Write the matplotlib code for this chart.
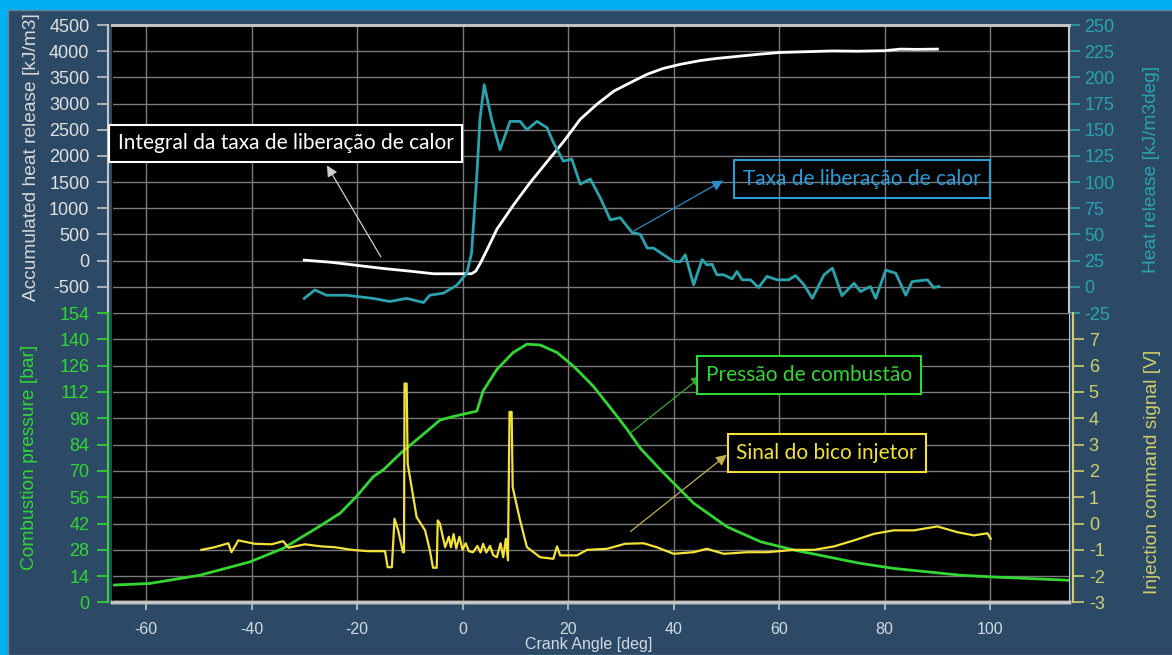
import matplotlib
matplotlib.use("Agg")
import matplotlib.pyplot as plt
from matplotlib.patches import Rectangle

plt.rcParams['font.family'] = ['Liberation Sans', 'DejaVu Sans']
plt.rcParams['axes.unicode_minus'] = False

# accumulated heat release [kJ/m3] (white)
acc_deg = [-30, -25, -20, -15, -10, -5.5, 1.7, 2.5, 3.3, 4.6, 6.5, 9.7, 12.8, 16.1, 19.2,
           22.3, 25.5, 28.7, 32.4, 35, 38, 41.3, 45, 48, 52, 56, 60, 65, 70, 75, 80, 83, 86, 90]
acc_val = [10, -30, -90, -150, -200, -250, -250, -200, -60, 200, 600, 1070, 1490, 1900, 2280,
           2700, 2990, 3240, 3430, 3560, 3670, 3750, 3820, 3860, 3900, 3940, 3975, 3990, 4005,
           4000, 4010, 4040, 4035, 4040]

# heat release rate [kJ/m3deg] (teal)
hr_deg = [-30, -28, -25.8, -22, -20.4, -17, -13.8, -10.6, -7.4, -6.2, -3.6, -1.1, 0.8, 1.7,
          2.7, 3.3, 4.1, 5.5, 7.1, 9.0, 10.9, 12.2, 14.1, 16, 17.2, 19.1, 20.7, 22.3, 24.2,
          26.1, 28, 29.9, 32.1, 33.7, 35, 36.2, 38.1, 40, 41.3, 42.2, 43.8, 45.4, 46.3, 47.3,
          48.2, 49.5, 51.1, 52, 53, 54.6, 56.1, 57.7, 59.6, 61.8, 63.1, 64.7, 66.3, 68.5,
          70.1, 71.9, 74.2, 75.4, 77.3, 78.3, 80.2, 82.1, 84, 85.2, 88.1, 89.3, 90.3]
hr_val = [-11, -3, -8, -8, -9, -11, -14, -11, -15, -8, -6, 1.5, 13, 32,
          106, 160, 193, 160, 131, 158, 158, 150, 158, 152, 138, 120, 122, 98, 103,
          85, 64, 66, 52, 50, 37, 37, 30.6, 24.2, 24, 30.6, 2, 26, 21, 21.5,
          11.5, 11.5, 7.6, 14.6, 6.7, 6.7, -0.7, 10, 6.7, 6.7, 10.8, 2, -11, 11.5,
          17.9, -8.4, 3.5, -4.5, 0.3, -11, 16, 13, -8, 5, 6.7, -0.7, 0.3]

# combustion pressure [bar] (green)
p_deg = [-66.6, -59.3, -49.8, -40.3, -34, -27.7, -23.2, -20.1, -16.9, -15, -11.5, -6.8, -4.3,
         -1.7, 2.7, 3.9, 6.5, 9.6, 12.2, 14.7, 17.9, 21, 24.8, 29.3, 31.2, 33.7, 37.5, 43.8,
         50.1, 56.5, 62.8, 69.2, 75.4, 81.8, 88.1, 94.4, 100.3, 115]
p_val = [9.2, 10.1, 14.5, 21.6, 28.8, 39.5, 47.5, 56.4, 67, 70.6, 80, 91, 97,
         99, 101.8, 112.5, 124, 133, 137.4, 137, 133, 125.8, 115, 99, 92, 82, 70.6, 52.8,
         40.3, 32.3, 27.9, 24.3, 20.8, 18.1, 16.3, 14.5, 13.6, 11.8]

# injection command signal [V] (yellow)
inj_deg = [-49.5, -47, -44.4, -43.8, -42.5, -39.4, -36.2, -34, -33, -29.9, -26.7, -24.2, -21,
           -17.9, -14.7, -14.2, -13.4, -12.9, -12.2, -11.3, -11.1, -11.0, -10.6, -10.4, -8.7,
           -7.1, -6.2, -5.6, -4.9, -4.7, -4.3, -3.3, -2.6, -2.2, -1.7, -1.2, -0.6, 0.0, 0.6,
           1.2, 2.0, 2.8, 3.4, 3.9, 4.5, 5.2, 5.8, 6.5, 7.2, 7.7, 8.2, 8.6, 8.9, 9.3, 9.5,
           10.9, 12.2, 14.7, 17.2, 17.9, 18.5, 21.7, 23.6, 27.4, 30.8, 34.3, 36.8, 40, 43.8,
           46.3, 49.5, 53.9, 57.7, 62.8, 66.6, 70.4, 74.2, 78, 81.7, 85.5, 90, 93.8, 96.9,
           99.5, 100.1]
inj_val = [-1.0, -0.9, -0.75, -1.09, -0.64, -0.77, -0.79, -0.67, -0.92, -0.79, -0.87, -0.9, -1.0,
           -1.05, -1.05, -1.66, -1.66, 0.18, -0.26, -1.09, -1.09, 5.32, 5.32, 2.27, 0.24,
           -0.26, -1.02, -1.68, -1.68, 0.12, 0.0, -0.9, -0.5, -0.9, -0.4, -0.95, -0.5, -1.0, -0.75,
           -1.05, -1.09, -0.85, -1.1, -0.77, -1.1, -0.85, -1.2, -1.28, -0.75, -1.28, -0.58, -1.4,
           4.24, 4.24, 1.38,
           0.12, -0.9, -1.28, -1.34, -0.87, -1.21, -1.21, -1.0, -0.96, -0.77, -0.75, -0.9, -1.15,
           -1.09, -0.96, -1.15, -1.09, -1.09, -1.0, -1.0, -0.87, -0.64, -0.39, -0.26, -0.26,
           -0.11, -0.33, -0.45, -0.37, -0.58]

x_ticks = list(range(-60, 101, 20))
acc_ticks = list(range(-500, 4501, 500))
hr_ticks = list(range(-25, 251, 25))
p_ticks = list(range(0, 155, 14))
inj_ticks = list(range(-3, 8))

GRAY = '#c4c4c4'
GRID = '#7a7a7a'
TEAL = '#2ba3ad'
GREEN = '#33d633'
YEL = '#f2e23a'
KHAKI = '#cfcf6e'

fig = plt.figure(figsize=(11.72, 6.55), dpi=100, facecolor='#00b0f0')
fig.add_artist(Rectangle((8 / 1172, 0), 1, 1 - 10 / 655, transform=fig.transFigure,
                         fc='#2c4a66', ec='#6a8299', lw=1, zorder=0))

ax_top = fig.add_axes([0.0953, 0.5221, 0.8171, 0.4397])
ax_bot = fig.add_axes([0.0953, 0.0802, 0.8171, 0.4419], sharex=ax_top)
ax_top_r = ax_top.twinx()
ax_bot_r = ax_bot.twinx()

for ax in (ax_top, ax_bot):
    ax.set_facecolor('black')
    ax.grid(True, color=GRID, lw=1)
    ax.set_axisbelow(True)

ax_top.plot(acc_deg, acc_val, color='white', lw=2)
ax_top_r.plot(hr_deg, hr_val, color=TEAL, lw=2)
ax_bot.plot(p_deg, p_val, color=GREEN, lw=2)
ax_bot_r.plot(inj_deg, inj_val, color=YEL, lw=1.6)

ax_top.set_xlim(-66.5, 115)
ax_top.set_xticks(x_ticks)
ax_top.set_ylim(-1000, 4500)
ax_top.set_yticks(acc_ticks)
ax_top_r.set_ylim(-25, 250)
ax_top_r.set_yticks(hr_ticks)
ax_bot.set_ylim(0, 154)
ax_bot.set_yticks(p_ticks)
ax_bot_r.set_ylim(-3, 8)
ax_bot_r.set_yticks(inj_ticks)

# spines
for ax in (ax_top, ax_top_r):
    ax.spines['top'].set_color(GRAY)
    ax.spines['top'].set_linewidth(2)
    ax.spines['bottom'].set_color(GRID)
    ax.spines['right'].set_color(GRAY)
    ax.spines['right'].set_linewidth(1.5)
ax_top.spines['left'].set_color(GRAY)
ax_top.spines['left'].set_linewidth(1.5)
ax_top.spines['left'].set_position(('outward', 3))

for ax in (ax_bot, ax_bot_r):
    ax.spines['top'].set_visible(False)
    ax.spines['bottom'].set_color(GRAY)
    ax.spines['bottom'].set_linewidth(2.5)
ax_bot.spines['left'].set_color(GREEN)
ax_bot.spines['left'].set_linewidth(1.5)
ax_bot.spines['left'].set_position(('outward', 3))
ax_bot.spines['right'].set_color(GRAY)
ax_bot_r.spines['right'].set_color(KHAKI)
ax_bot_r.spines['right'].set_linewidth(1.5)
ax_bot_r.spines['right'].set_position(('outward', 3))

ax_top.tick_params(axis='x', bottom=False, labelbottom=False)
ax_top.tick_params(axis='y', colors=GRAY, labelcolor='#e2e2e2', length=8, width=1.2,
                   labelsize=13, pad=5)
ax_top_r.tick_params(axis='y', colors=TEAL, length=8, width=1.2, labelsize=13, pad=3)
ax_bot.tick_params(axis='y', colors=GREEN, length=8, width=1.2, labelsize=13, pad=5)
ax_bot.tick_params(axis='x', colors=GRAY, labelcolor='#d0dae4', length=6, width=1.2,
                   labelsize=11.5, pad=8)
ax_bot_r.tick_params(axis='y', colors=KHAKI, length=8, width=1.2, labelsize=13, pad=3)

ax_top.set_ylabel('Accumulated heat release [kJ/m3]', color='#d8d8d8', fontsize=13.8)
ax_top.yaxis.set_label_coords(-0.0749, 0.54)
ax_top_r.set_ylabel('Heat release [kJ/m3deg]', color=TEAL, fontsize=13.8)
ax_top_r.yaxis.set_label_coords(1.077, 0.5)
ax_bot.set_ylabel('Combustion pressure [bar]', color=GREEN, fontsize=13.8)
ax_bot.yaxis.set_label_coords(-0.077, 0.5)
ax_bot_r.set_ylabel('Injection command signal [V]', color=KHAKI, fontsize=13.8)
ax_bot_r.yaxis.set_label_coords(1.078, 0.45)
ax_bot.set_xlabel('Crank Angle [deg]', color='#d0dae4', fontsize=11.5)
ax_bot.xaxis.set_label_coords(0.498, -0.118)

# callouts
def callout(ax, tr, label, pos, start, tip, color, arrow_color, fill='black'):
    ax.annotate('', xy=tip, xytext=start, xycoords=tr, textcoords=tr,
                arrowprops=dict(arrowstyle='-|>', color=arrow_color, lw=0.9,
                                mutation_scale=16, shrinkA=0, shrinkB=0), zorder=6)
    ax.text(pos[0], pos[1], label, transform=tr, ha='center', va='center', color=color,
            fontsize=15, family=['Lato', 'DejaVu Sans'], zorder=7,
            bbox=dict(boxstyle='square,pad=0.42', fc=fill, ec=color, lw=1.5))

callout(ax_top_r, ax_top.transData, 'Integral da taxa de liberação de calor',
        (-33.5, 2239), (-15.5, 74), (-25.7, 1818), 'white', '#d0d0d0')
callout(ax_top_r, ax_top.transData, 'Taxa de liberação de calor',
        (75.7, 1559), (32.5, 572), (49.4, 1530), '#2b9cd8', '#2b8cc8', fill='none')
callout(ax_bot_r, ax_bot.transData, 'Pressão de combustão',
        (65.7, 120.9), (31.8, 90.2), (45.4, 120.5), GREEN, '#2fae2f')
callout(ax_bot_r, ax_bot.transData, 'Sinal do bico injetor',
        (69, 79.6), (31.8, 37.7), (50.1, 78.6), YEL, '#c0b050')

fig.savefig('out.png', dpi=100, facecolor=fig.get_facecolor())
